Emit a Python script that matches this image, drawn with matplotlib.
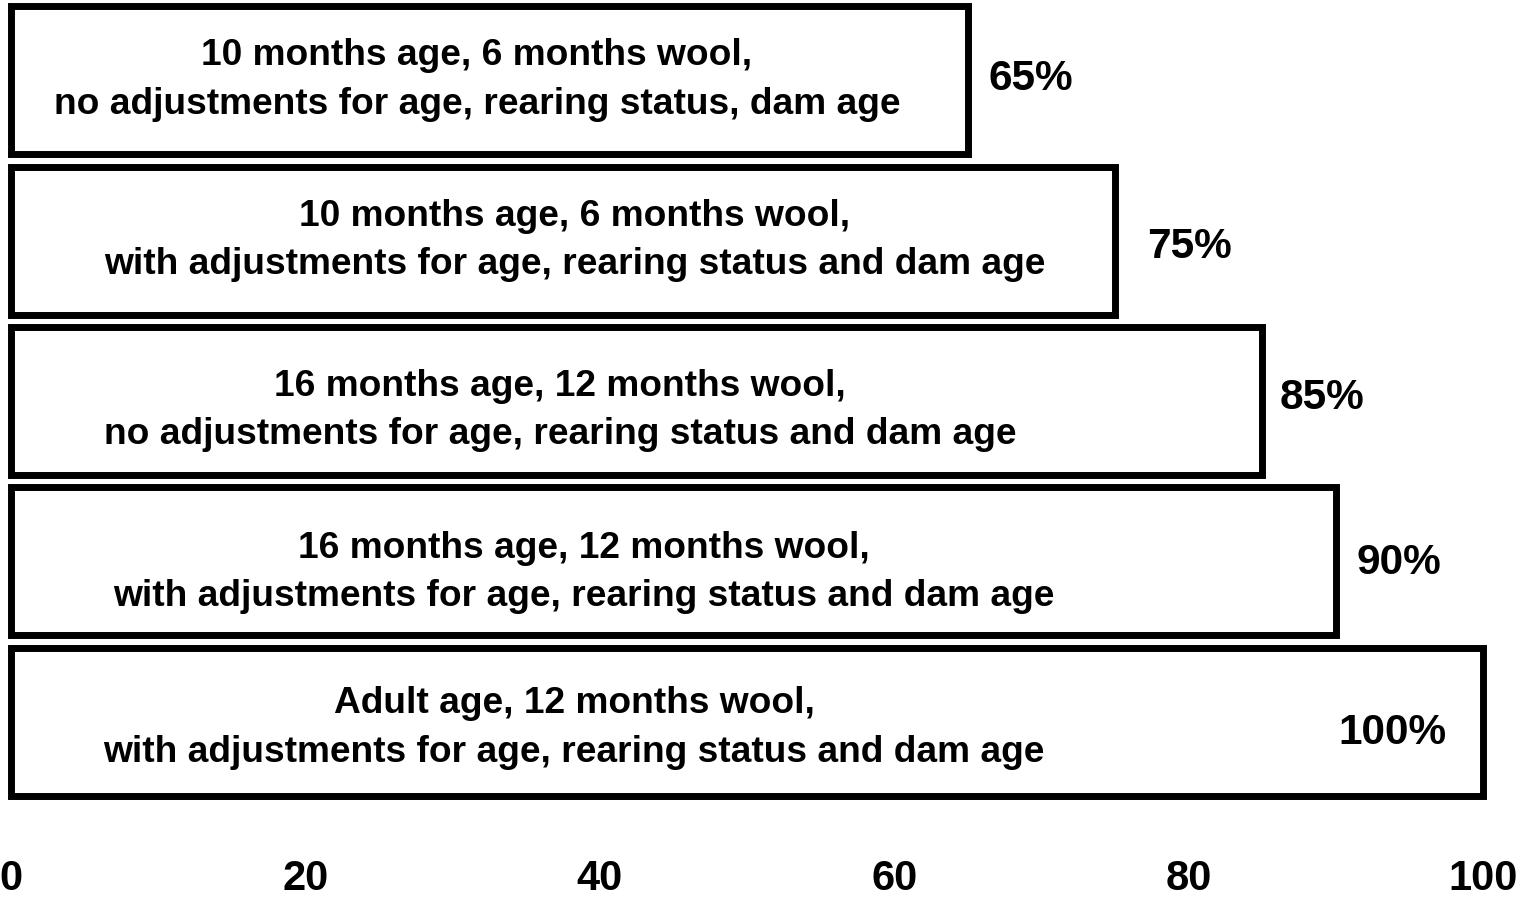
import matplotlib
matplotlib.use("Agg")
import matplotlib.pyplot as plt

# ---- data ----
categories = [
    "10 months age, 6 months wool,\nno adjustments for age, rearing status, dam age",
    "10 months age, 6 months wool,\nwith adjustments for age, rearing status and dam age",
    "16 months age, 12 months wool,\nno adjustments for age, rearing status and dam age",
    "16 months age, 12 months wool,\nwith adjustments for age, rearing status and dam age",
    "Adult age, 12 months wool,\nwith adjustments for age, rearing status and dam age",
]
values = [65, 75, 85, 90, 100]
value_labels = ["65%", "75%", "85%", "90%", "100%"]
xticks = [0, 20, 40, 60, 80, 100]

# ---- styling / placement (not data) ----
text_x = [31.65, 38.3, 37.3, 38.9, 38.25]        # centre of in-bar text (data units)
text_dy = [0.0, 0.0, 0.06, 0.07, 0.04]            # vertical nudge of in-bar text
lab_dx = [1.4, 2.2, 1.2, 1.4, -2.5]               # horizontal offset of value label
lab_dy = [-0.01, 0.04, -0.02, 0.01, 0.07]
lab_ha = ["left", "left", "left", "left", "right"]

plt.rcParams['font.family'] = ['Liberation Sans', 'DejaVu Sans']

fig = plt.figure(figsize=(15.28, 9.02), dpi=100)
ax = fig.add_axes([11/1528, 0.1112, 1472/1528, 0.8888])

y = list(range(len(values)))
ax.barh(y, values, height=0.923, color="white", edgecolor="black",
        linewidth=5.0, clip_on=False)

for i, (cat, v, lab) in enumerate(zip(categories, values, value_labels)):
    ax.text(text_x[i], i + text_dy[i], cat, ha="center", va="center",
            multialignment="center", fontsize=26.7, fontweight="bold",
            linespacing=1.5)
    ax.text(v + lab_dx[i], i + lab_dy[i], lab, ha=lab_ha[i], va="center",
            fontsize=30.5, fontweight="bold")

ax.set_xlim(0, 100)
ax.set_ylim(4.5, -0.5)
ax.set_xticks(xticks)
ax.set_xticklabels([str(t) for t in xticks], fontsize=30, fontweight="bold")
ax.tick_params(axis="x", length=0, pad=41)
ax.set_yticks([])
for s in ax.spines.values():
    s.set_visible(False)

fig.savefig("out.png", dpi=100)
